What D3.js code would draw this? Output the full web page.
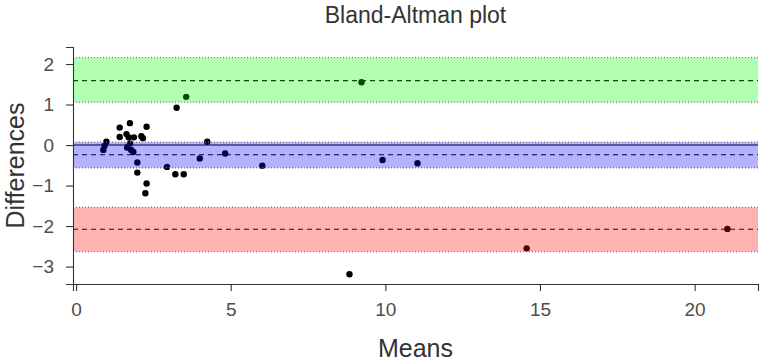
<!DOCTYPE html>
<html>
<head>
<meta charset="utf-8">
<script src="https://cdn.jsdelivr.net/npm/d3@7"></script>
<style>
  body { margin: 0; background: #fff; }
  text { font-family: "Liberation Sans", Arial, sans-serif; }
</style>
</head>
<body>
<script>
// data
let means = [1.41, 1.74, 2.28, 1.41, 1.63, 1.70, 1.87, 2.11, 2.16, 0.98, 0.92, 0.88,
             1.74, 1.65, 1.78, 1.85, 1.98, 1.98, 2.94, 3.21, 3.48, 2.28, 2.24, 3.25,
             3.56, 4.24, 4.00, 4.82, 6.02, 9.91, 11.04, 8.84, 9.23, 14.57, 21.06];
let diffs = [0.43, 0.54, 0.45, 0.20, 0.27, 0.19, 0.19, 0.22, 0.17, 0.08, -0.02, -0.12,
             0.04, -0.06, -0.12, -0.17, -0.43, -0.68, -0.54, -0.72, -0.72, -0.95, -1.19, 0.92,
             1.19, 0.08, -0.33, -0.21, -0.51, -0.37, -0.45, -3.19, 1.55, -2.55, -2.07];

// bands: centre line and lower / upper limits
let bandNames = ["upper", "bias", "lower"];
let bandMid   = [1.59, -0.24, -2.08];
let bandLow   = [1.06, -0.56, -2.63];
let bandHigh  = [2.16, 0.07, -1.54];
let bandColor = ["#00ff00", "#0000ff", "#ff0000"];

let xTicks = [0, 5, 10, 15, 20];
let yTicks = [-3, -2, -1, 0, 1, 2];

let width = 762,
    height = 361;

let margin = {
  top: 47,
  bottom: 77,
  left: 73,
  right: 4
};

let svg = d3.select('body')
    .append("svg")
    .attr("width", width)
    .attr("height", height);

let x = d3.scaleLinear()
    .domain([-0.1, 22.05])
    .range([margin.left, width - margin.right]);

let y = d3.scaleLinear()
    .domain([-3.43, 2.42])
    .range([height - margin.bottom, margin.top]);

let data = means.map((m, i) => ({ m: m, d: diffs[i] }));
let bands = bandNames.map((n, i) => ({
  name: n, mid: bandMid[i], lo: bandLow[i], hi: bandHigh[i], col: bandColor[i]
}));

// zero line
svg.append("line")
    .attr("x1", x.range()[0])
    .attr("x2", x.range()[1])
    .attr("y1", y(0))
    .attr("y2", y(0))
    .attr("stroke", "#000")
    .attr("stroke-width", 1.1);

// dashed centre lines
svg.selectAll(".mid")
    .data(bands)
    .enter()
    .append("line")
    .attr("class", "mid")
    .attr("x1", x.range()[0])
    .attr("x2", x.range()[1])
    .attr("y1", d => y(d.mid))
    .attr("y2", d => y(d.mid))
    .attr("stroke", "#000")
    .attr("stroke-width", 1.1)
    .attr("stroke-dasharray", "5,4");

// points
svg.selectAll("circle")
    .data(data)
    .enter()
    .append("circle")
    .attr("cx", d => x(d.m))
    .attr("cy", d => y(d.d))
    .attr("r", 3.2)
    .attr("fill", "#000");

// translucent bands over the points
svg.selectAll(".band")
    .data(bands)
    .enter()
    .append("rect")
    .attr("class", "band")
    .attr("x", x.range()[0])
    .attr("width", x.range()[1] - x.range()[0])
    .attr("y", d => y(d.hi))
    .attr("height", d => y(d.lo) - y(d.hi))
    .attr("fill", d => d.col)
    .attr("fill-opacity", 0.3);

// dotted limits
bands.forEach(b => {
  [b.lo, b.hi].forEach(v => {
    svg.append("line")
        .attr("x1", x.range()[0])
        .attr("x2", x.range()[1])
        .attr("y1", y(v))
        .attr("y2", y(v))
        .attr("stroke", "#777")
        .attr("stroke-width", 1.3)
        .attr("stroke-dasharray", "1,2");
  });
});

// axes
let xAxis = svg.append("g")
    .attr("transform", "translate(0," + (height - margin.bottom) + ")")
    .call(d3.axisBottom(x).tickValues(xTicks).tickFormat(d3.format("d"))
        .tickSize(7).tickPadding(12));

let yAxis = svg.append("g")
    .attr("transform", "translate(" + margin.left + ",0)")
    .call(d3.axisLeft(y).tickValues(yTicks).tickFormat(d3.format("d"))
        .tickSize(7).tickPadding(12));

[xAxis, yAxis].forEach(g => {
  g.select(".domain").attr("stroke", "#333").attr("stroke-width", 1.1);
  g.selectAll(".tick line").attr("stroke", "#333").attr("stroke-width", 1.1);
  g.selectAll(".tick text")
      .attr("fill", "#4d4d4d")
      .style("font-size", "19px")
      .style("font-family", "'Liberation Sans', Arial, sans-serif");
});

// titles
svg.append("text")
    .attr("x", (x.range()[0] + x.range()[1]) / 2)
    .attr("y", 23)
    .style("text-anchor", "middle")
    .style("font-size", "23px")
    .attr("fill", "#333")
    .text("Bland-Altman plot");

svg.append("text")
    .attr("x", (x.range()[0] + x.range()[1]) / 2)
    .attr("y", 357)
    .style("text-anchor", "middle")
    .style("font-size", "25px")
    .attr("fill", "#333")
    .text("Means");

svg.append("text")
    .attr("x", -(y.range()[0] + y.range()[1]) / 2)
    .attr("y", 24)
    .attr("transform", "rotate(-90)")
    .style("text-anchor", "middle")
    .style("font-size", "25px")
    .attr("fill", "#333")
    .text("Differences");
</script>
</body>
</html>
